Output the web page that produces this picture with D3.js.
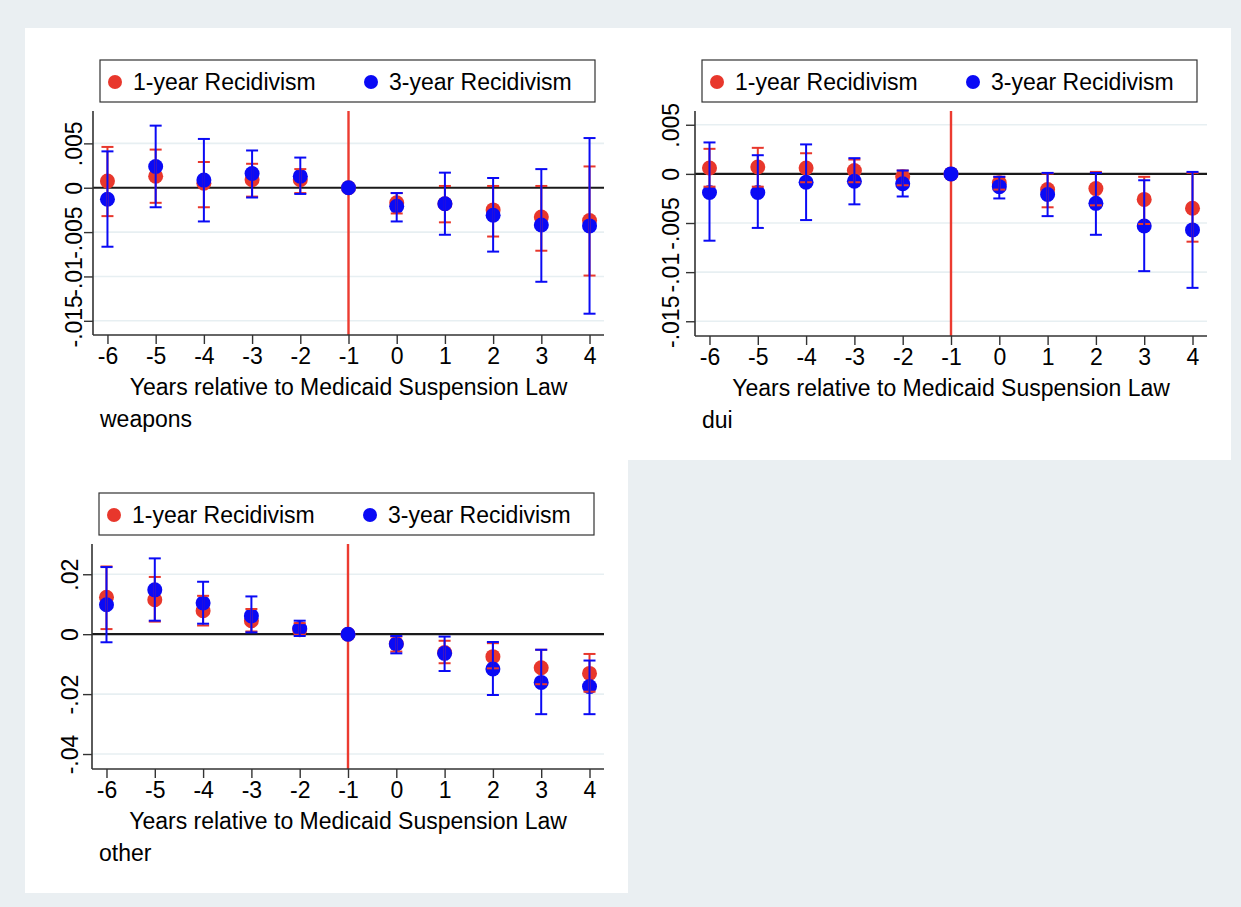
<!DOCTYPE html>
<html>
<head>
<meta charset="utf-8">
<script src="https://cdnjs.cloudflare.com/ajax/libs/d3/7.8.5/d3.min.js"></script>
<style>
  body { margin: 0; background: #eaeff2; }
  svg { display: block; font-family: "Liberation Sans", Arial, Helvetica, sans-serif; }
</style>
</head>
<body>
<svg id="chart" width="1241" height="907"></svg>
<script>
// event time, same for all panels
let years = [-6, -5, -4, -3, -2, -1, 0, 1, 2, 3, 4];

// weapons
let weaponsEst1 = [0.00075, 0.0013, 0.0005, 0.0009, 0.0009, 0, -0.0017, -0.0018, -0.0025, -0.0033, -0.0037];
let weaponsHi1  = [0.0046, 0.0043, 0.0029, 0.0027, 0.0021, 0, -0.0006, 0.0002, 0.0002, 0.0002, 0.0024];
let weaponsLo1  = [-0.0032, -0.0017, -0.0022, -0.0010, -0.0006, 0, -0.0029, -0.0039, -0.0055, -0.0071, -0.0099];
let weaponsEst3 = [-0.0013, 0.0024, 0.00086, 0.0016, 0.0013, 0, -0.0021, -0.0018, -0.0031, -0.0042, -0.0043];
let weaponsHi3  = [0.0041, 0.0070, 0.0055, 0.0042, 0.0034, 0, -0.0006, 0.0017, 0.0011, 0.0021, 0.0056];
let weaponsLo3  = [-0.00665, -0.0022, -0.0038, -0.0011, -0.0007, 0, -0.0038, -0.0053, -0.0072, -0.0106, -0.0142];

// dui
let duiEst1 = [0.0006, 0.0007, 0.0006, 0.00034, -0.0003, 0, -0.0009, -0.0016, -0.0015, -0.0026, -0.0035];
let duiHi1  = [0.00255, 0.00265, 0.0021, 0.00146, 0.00034, 0, -0.0003, 0.00003, 0.0002, -0.0003, 0.0001];
let duiLo1  = [-0.0013, -0.0013, -0.00085, -0.00085, -0.00116, 0, -0.0016, -0.0034, -0.0032, -0.0051, -0.0069];
let duiEst3 = [-0.0019, -0.0019, -0.00085, -0.00075, -0.001, 0, -0.0013, -0.0021, -0.003, -0.0053, -0.0057];
let duiHi3  = [0.0032, 0.0019, 0.003, 0.0016, 0.00034, 0, -0.0003, 0.0001, 0.0001, -0.00065, 0.0002];
let duiLo3  = [-0.0068, -0.0055, -0.0047, -0.0031, -0.0023, 0, -0.0025, -0.0043, -0.0062, -0.0099, -0.0116];

// other
let otherEst1 = [0.0123, 0.0115, 0.0078, 0.0045, 0.0015, 0, -0.0032, -0.0061, -0.0075, -0.0112, -0.0131];
let otherHi1  = [0.0226, 0.0191, 0.0128, 0.0084, 0.0037, 0, -0.0008, -0.0022, -0.003, -0.0052, -0.0066];
let otherLo1  = [0.0017, 0.0042, 0.0029, 0.0009, -0.0002, 0, -0.0058, -0.0097, -0.0114, -0.0167, -0.0192];
let otherEst3 = [0.0098, 0.0148, 0.0104, 0.0061, 0.0019, 0, -0.0033, -0.0064, -0.0116, -0.0161, -0.0175];
let otherHi3  = [0.0224, 0.0253, 0.0175, 0.0126, 0.0045, 0, -0.0006, -0.0008, -0.0026, -0.0052, -0.0088];
let otherLo3  = [-0.0027, 0.0045, 0.0035, 0.0006, -0.0006, 0, -0.0064, -0.0123, -0.0203, -0.0267, -0.0267];

let smallTicks = [0.005, 0, -0.005, -0.01, -0.015];
let bigTicks = [0.02, 0, -0.02, -0.04];

let seriesNames = ["1-year Recidivism", "3-year Recidivism"];
let xTitle = "Years relative to Medicaid Suspension Law";

let red = "#e8372c", blue = "#0a0af5";
let fs = 23;

let svg = d3.select("#chart");

// white backgrounds behind the graphs
svg.append("rect").attr("x", 25).attr("y", 28).attr("width", 1206).attr("height", 432).attr("fill", "#fff");
svg.append("rect").attr("x", 25).attr("y", 460).attr("width", 603).attr("height", 433).attr("fill", "#fff");

// stata style labels: .005, -.01
function stataFmt(v) {
  if (v === 0) return "0";
  return String(+v.toFixed(4)).replace("0.", ".");
}

let panels = [
  { note: "weapons", left: 93, right: 604, top: 111, bottom: 335, dom: [-0.0166, 0.00865], ticks: smallTicks, gap: 11,
    est1: weaponsEst1, lo1: weaponsLo1, hi1: weaponsHi1, est3: weaponsEst3, lo3: weaponsLo3, hi3: weaponsHi3, legY: 60 },
  { note: "dui", left: 695, right: 1207, top: 111, bottom: 336, dom: [-0.0165, 0.0064], ticks: smallTicks, gap: 16,
    est1: duiEst1, lo1: duiLo1, hi1: duiHi1, est3: duiEst3, lo3: duiLo3, hi3: duiHi3, legY: 60 },
  { note: "other", left: 92, right: 604, top: 544, bottom: 769, dom: [-0.045, 0.0301], ticks: bigTicks, gap: 14,
    est1: otherEst1, lo1: otherLo1, hi1: otherHi1, est3: otherEst3, lo3: otherLo3, hi3: otherHi3, legY: 493 }
];

panels.forEach(drawPanel);

function drawPanel(p) {
  let g = svg.append("g");
  let x = d3.scaleLinear().domain([-6.3, 4.3]).range([p.left, p.right]);
  let y = d3.scaleLinear().domain(p.dom).range([p.bottom, p.top]);

  // grid
  g.selectAll(".grid").data(p.ticks.filter(t => t !== 0)).enter()
    .append("line")
    .attr("x1", p.left).attr("x2", p.right)
    .attr("y1", d => y(d)).attr("y2", d => y(d))
    .attr("stroke", "#e7eff2").attr("stroke-width", 1.6);

  // zero line + event line
  g.append("line").attr("x1", p.left).attr("x2", p.right)
    .attr("y1", y(0)).attr("y2", y(0))
    .attr("stroke", "#1a1a1a").attr("stroke-width", 2.2);
  g.append("line").attr("x1", x(-1)).attr("x2", x(-1))
    .attr("y1", p.top).attr("y2", p.bottom)
    .attr("stroke", "#ec3b30").attr("stroke-width", 2.4);

  // x axis (plain hyphen for negatives)
  let xAxis = d3.axisBottom(x).tickValues(years).tickSize(9).tickSizeOuter(0).tickPadding(4).tickFormat(d => String(d));
  let xg = g.append("g").attr("transform", `translate(0,${p.bottom})`).call(xAxis);
  xg.select(".domain").attr("stroke", "#333").attr("stroke-width", 1.6).attr("d", `M${p.left},0H${p.right}`);
  xg.selectAll(".tick line").attr("stroke", "#333").attr("stroke-width", 1.4);
  xg.selectAll(".tick text").attr("font-size", fs).attr("fill", "#000").attr("font-family", null);

  // y axis, rotated labels like stata
  let yAxis = d3.axisLeft(y).tickValues(p.ticks).tickSize(9).tickSizeOuter(0).tickFormat(stataFmt);
  let yg = g.append("g").attr("transform", `translate(${p.left},0)`).call(yAxis);
  yg.select(".domain").attr("stroke", "#333").attr("stroke-width", 1.6).attr("d", `M0,${p.top}V${p.bottom}`);
  yg.selectAll(".tick line").attr("stroke", "#333").attr("stroke-width", 1.4);
  yg.selectAll(".tick text")
    .attr("font-size", fs).attr("fill", "#000").attr("font-family", null)
    .attr("x", null).attr("dy", null)
    .attr("text-anchor", "middle")
    .attr("transform", `translate(${-p.gap},0) rotate(-90)`);

  // titles
  g.append("text").attr("x", (p.left + p.right) / 2).attr("y", p.bottom + 60)
    .attr("text-anchor", "middle").attr("font-size", fs).attr("fill", "#000").text(xTitle);
  g.append("text").attr("x", p.left + 7).attr("y", p.bottom + 92)
    .attr("font-size", fs).attr("fill", "#000").text(p.note);

  let rows = years.map((yr, i) => ({ yr, e1: p.est1[i], l1: p.lo1[i], h1: p.hi1[i], e3: p.est3[i], l3: p.lo3[i], h3: p.hi3[i] }));

  // dots first, caps on top (order in the original graph)
  g.selectAll(".d1").data(rows).enter().append("circle")
    .attr("cx", d => x(d.yr)).attr("cy", d => y(d.e1)).attr("r", 7.5).attr("fill", red);
  g.selectAll(".d3").data(rows).enter().append("circle")
    .attr("cx", d => x(d.yr)).attr("cy", d => y(d.e3)).attr("r", 7.5).attr("fill", blue);

  function caps(cls, lo, hi, col) {
    let cg = g.selectAll("." + cls).data(rows.filter(d => d.yr !== -1)).enter().append("g")
      .attr("stroke", col).attr("stroke-width", 2);
    cg.append("line").attr("x1", d => x(d.yr)).attr("x2", d => x(d.yr))
      .attr("y1", d => y(d[lo])).attr("y2", d => y(d[hi]));
    cg.append("line").attr("x1", d => x(d.yr) - 6).attr("x2", d => x(d.yr) + 6)
      .attr("y1", d => y(d[lo])).attr("y2", d => y(d[lo]));
    cg.append("line").attr("x1", d => x(d.yr) - 6).attr("x2", d => x(d.yr) + 6)
      .attr("y1", d => y(d[hi])).attr("y2", d => y(d[hi]));
  }
  caps("c1", "l1", "h1", red);
  caps("c3", "l3", "h3", blue);

  // legend
  let lx = p.left + 7;
  let leg = g.append("g").attr("transform", `translate(${lx},${p.legY})`);
  leg.append("rect").attr("width", 495).attr("height", 42)
    .attr("fill", "#fff").attr("stroke", "#333").attr("stroke-width", 1.2);
  let items = [{ name: seriesNames[0], col: red, off: 15 }, { name: seriesNames[1], col: blue, off: 271 }];
  items.forEach(it => {
    leg.append("circle").attr("cx", it.off).attr("cy", 22).attr("r", 7).attr("fill", it.col);
    leg.append("text").attr("x", it.off + 18).attr("y", 30).attr("font-size", fs).attr("fill", "#000").text(it.name);
  });
}
</script>
</body>
</html>
